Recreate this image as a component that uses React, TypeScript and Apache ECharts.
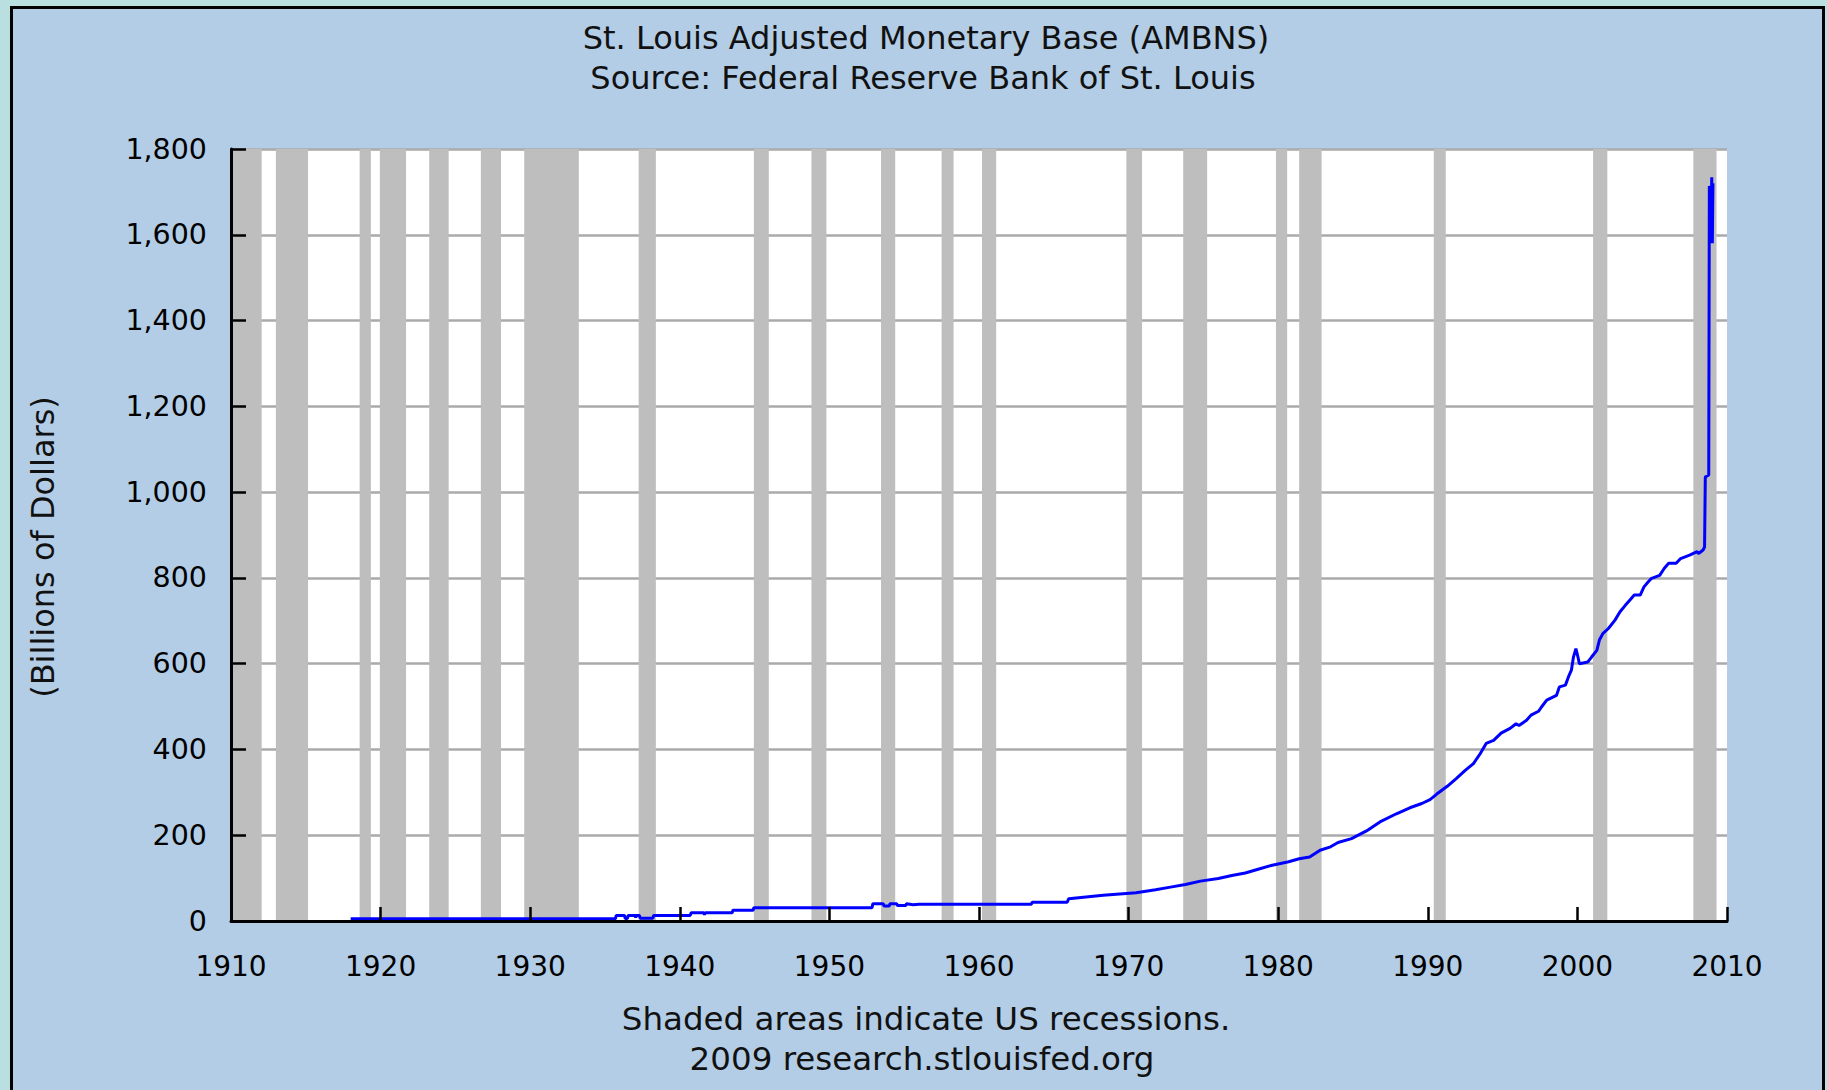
import React, { useEffect, useRef } from "react";
import * as echarts from "echarts";

// ---- Data ----
const years = [
  1918.0, 1921.0, 1925.0, 1930.0, 1935.7, 1935.75, 1936.3, 1936.35, 1936.5, 1936.55,
  1937.0, 1937.05, 1937.1, 1937.3, 1937.35, 1938.2, 1938.25, 1940.7, 1940.75, 1941.6,
  1941.65, 1941.7, 1943.5, 1943.55, 1944.9, 1944.95, 1952.85, 1952.9, 1953.6, 1953.65,
  1954.0, 1954.05, 1954.5, 1954.55, 1955.1, 1955.15, 1955.6, 1956.0, 1963.5, 1963.55,
  1965.9, 1966.0, 1968.3, 1970.5, 1971.8, 1972.8, 1973.8, 1974.8, 1976.0, 1976.9,
  1977.8, 1978.6, 1979.6, 1980.7, 1981.4, 1982.1, 1982.8, 1983.5, 1984.0, 1984.9,
  1985.9, 1986.8, 1987.9, 1988.8, 1989.6, 1990.15, 1990.6, 1991.3, 1991.9, 1992.5,
  1993.05, 1993.5, 1993.9, 1994.4, 1994.9, 1995.5, 1995.9, 1996.1, 1996.6, 1996.9,
  1997.4, 1997.6, 1997.95, 1998.6, 1998.8, 1999.2, 1999.4, 1999.6, 1999.74, 1999.9,
  2000.06, 2000.13, 2000.7, 2000.96, 2001.3, 2001.47, 2001.7, 2002.07, 2002.5, 2002.85,
  2003.2, 2003.5, 2003.8, 2004.2, 2004.45, 2004.74, 2004.96, 2005.5, 2005.8, 2006.1,
  2006.6, 2006.9, 2007.5, 2008.0, 2008.1, 2008.4, 2008.5, 2008.55, 2008.78, 2008.82,
  2008.86, 2008.9, 2008.94, 2008.98, 2009.02, 2009.06,
];
const baseBillions = [
  5.5, 5.5, 5.5, 5.5, 5.5, 13, 13, 6, 6, 13,
  13, 8, 13, 13, 6.5, 6.5, 13, 13, 19, 19,
  15, 19, 19, 25, 25, 31, 31, 40, 40, 35,
  35, 40, 40, 36, 36, 40, 38, 39, 39, 44,
  44, 52, 60, 66, 73, 79, 85, 93, 99, 106,
  112, 120, 130, 138, 145, 149, 165, 173, 183, 192,
  210, 231, 250, 264, 274, 283, 296, 314, 332, 351,
  367, 390, 414, 421, 438, 449, 460, 456, 468, 480,
  489, 499, 515, 526, 546, 550, 569, 585, 616, 635,
  612, 600, 604, 616, 631, 655, 670, 682, 701, 721,
  736, 748, 760, 760, 779, 791, 799, 806, 822, 834,
  834, 845, 853, 861, 857, 865, 872, 1035, 1040, 1714,
  1580, 1714, 1600, 1734, 1580, 1720,
];

const recessionStart = [
  1910.0, 1913.0, 1918.6, 1919.95, 1923.25, 1926.7, 1929.6, 1937.25, 1944.95, 1948.8,
  1953.45, 1957.5, 1960.2, 1969.85, 1973.65, 1979.85, 1981.4, 1990.4, 2001.05, 2007.75,
];
const recessionEnd = [
  1912.05, 1915.15, 1919.35, 1921.7, 1924.55, 1928.05, 1933.25, 1938.4, 1945.95, 1949.8,
  1954.4, 1958.3, 1961.15, 1970.9, 1975.25, 1980.6, 1982.9, 1991.2, 2002.0, 2009.3,
];

const xMin = 1910;
const xMax = 2010;
const xStep = 10;
const yMin = 0;
const yMax = 1800;
const yStep = 200;

const titleLines = [
  "St. Louis Adjusted Monetary Base (AMBNS)",
  "Source: Federal Reserve Bank of St. Louis",
];
const footerLines = [
  "Shaded areas indicate US recessions.",
  "2009 research.stlouisfed.org",
];
const yAxisTitle = "(Billions of Dollars)";

const FONT = '"DejaVu Sans", Verdana, sans-serif';

function fmtThousands(v: number): string {
  return String(Math.round(v)).replace(/\B(?=(\d{3})+(?!\d))/g, ",");
}

function textEl(text: string, x: number, y: number, size: number, extra: any = {}) {
  return {
    type: "text",
    z: 100,
    x,
    y,
    ...extra,
    style: {
      text,
      x: 0,
      y: 0,
      fill: "#111",
      font: `${size}px ${FONT}`,
      fontSize: size,
      fontFamily: FONT,
      align: "center",
      verticalAlign: "middle",
      textAlign: "center",
      textVerticalAlign: "middle",
    },
  };
}

export default function App() {
  const ref = useRef<HTMLDivElement>(null);

  useEffect(() => {
    document.body.style.margin = "0";
    if (!ref.current) return;
    const chart = echarts.init(ref.current, undefined, { renderer: "svg" });

    const lineData = years.map((y, i) => [y, baseBillions[i]]);
    const bands = recessionStart.map((s, i) => [{ xAxis: s }, { xAxis: recessionEnd[i] }]);

    const option: any = {
      animation: false,
      backgroundColor: "#b9dfe0",
      textStyle: { fontFamily: FONT },
      graphic: [
        {
          type: "rect",
          z: -100,
          shape: { x: 11.5, y: 7.5, width: 1812, height: 1100 },
          style: { fill: "#b3cde6", stroke: "#000", lineWidth: 3 },
        },
        textEl(titleLines[0], 926, 38, 32),
        textEl(titleLines[1], 923, 78, 32),
        textEl(footerLines[0], 926, 1019, 32.5),
        textEl(footerLines[1], 922, 1059, 32.5),
        textEl(yAxisTitle, 43, 547, 32, { rotation: Math.PI / 2 }),
      ],
      grid: {
        left: 231,
        right: 100,
        top: 149,
        bottom: 169,
        show: true,
        backgroundColor: "#ffffff",
        borderWidth: 0,
        containLabel: false,
      },
      xAxis: {
        type: "value",
        min: xMin,
        max: xMax,
        interval: xStep,
        z: 10,
        axisLine: { show: true, onZero: false, lineStyle: { color: "#000", width: 3 } },
        axisTick: { show: true, inside: true, length: 14, lineStyle: { color: "#000", width: 2.5 } },
        axisLabel: {
          show: true,
          color: "#000",
          fontSize: 28,
          fontFamily: FONT,
          margin: 31,
          showMinLabel: true,
          showMaxLabel: true,
          formatter: (v: number) => String(Math.round(v)),
        },
        splitLine: { show: false },
      },
      yAxis: [
        {
          type: "value",
          min: yMin,
          max: yMax,
          interval: yStep,
          z: 0,
          axisLine: { show: false },
          axisTick: { show: false },
          axisLabel: { show: false },
          splitLine: { show: true, lineStyle: { color: "#aaaaaa", width: 2.5 } },
        },
        {
          type: "value",
          min: yMin,
          max: yMax,
          interval: yStep,
          position: "left",
          z: 10,
          axisLine: { show: true, onZero: false, lineStyle: { color: "#000", width: 3 } },
          axisTick: { show: true, inside: true, length: 15, lineStyle: { color: "#000", width: 2.5 } },
          axisLabel: {
            show: true,
            color: "#000",
            fontSize: 28.5,
            fontFamily: FONT,
            margin: 24,
            formatter: (v: number) => fmtThousands(v),
          },
          splitLine: { show: false },
        },
      ],
      series: [
        {
          name: "Recessions",
          type: "line",
          data: [],
          z: 1,
          silent: true,
          markArea: {
            silent: true,
            itemStyle: { color: "#bebebe", borderWidth: 0 },
            label: { show: false },
            data: bands,
          },
        },
        {
          name: "AMBNS",
          type: "line",
          z: 3,
          data: lineData,
          showSymbol: false,
          symbol: "none",
          clip: true,
          lineStyle: { color: "#0000ff", width: 3 },
        },
      ],
    };

    chart.setOption(option);
    return () => {
      chart.dispose();
    };
  }, []);

  return <div ref={ref} style={{ width: 1827, height: 1090 }} />;
}
